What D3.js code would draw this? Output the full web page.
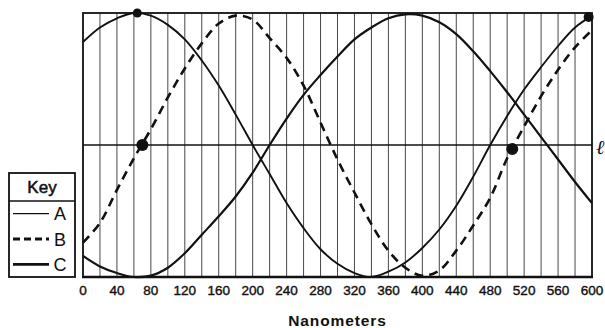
<!DOCTYPE html>
<html>
<head>
<meta charset="utf-8">
<script src="https://cdn.jsdelivr.net/npm/d3@7"></script>
<style>
body { margin: 0; background: #fff; }
svg { display: block; }
</style>
</head>
<body>
<div id="chart"></div>
<script>
// wavelength positions (nm) and the three waves
var nanometers = [0, 20, 40, 60, 80, 100, 120, 140, 160, 180, 200, 220, 240, 260, 280, 300,
    320, 340, 360, 380, 400, 420, 440, 460, 480, 500, 520, 540, 560, 580, 600];
var waveA = [0.78, 0.89, 0.96, 1.0, 0.98, 0.91, 0.80, 0.64, 0.45, 0.23, 0.0, -0.22, -0.44, -0.63, -0.79, -0.90,
    -0.97, -1.0, -0.96, -0.89, -0.78, -0.64, -0.46, -0.24, 0.0, 0.22, 0.42, 0.59, 0.75, 0.89, 0.98];
var waveB = [-0.74, -0.59, -0.34, -0.10, 0.12, 0.36, 0.58, 0.77, 0.92, 0.98, 0.95, 0.81, 0.66, 0.45, 0.17, -0.11,
    -0.36, -0.60, -0.80, -0.93, -0.99, -0.95, -0.80, -0.61, -0.40, -0.10, 0.14, 0.37, 0.57, 0.74, 0.87];
var waveC = [-0.84, -0.92, -0.97, -1.0, -0.99, -0.93, -0.82, -0.68, -0.54, -0.39, -0.21, 0.0, 0.20, 0.38, 0.53, 0.67,
    0.80, 0.89, 0.96, 0.99, 0.98, 0.93, 0.84, 0.71, 0.56, 0.40, 0.23, 0.06, -0.11, -0.28, -0.44];
var tickLabels = [0, 40, 80, 120, 160, 200, 240, 280, 320, 360, 400, 440, 480, 520, 560, 600];
var keyNames = ["A", "B", "C"];
// pencil dots drawn on the sheet
var markNm = [64, 70, 506, 596];
var markVal = [1.0, 0.0, -0.03, 0.97];
var markR = [4.5, 6, 6, 5];

var width = 605, height = 328;
var margin = { top: 13, right: 13, bottom: 51, left: 83 };

var svg = d3.select("#chart")
    .append("svg")
    .attr("width", width)
    .attr("height", height);

var x = d3.scaleLinear().domain([0, 600]).range([margin.left, width - margin.right]);
var y = d3.scaleLinear().domain([-1, 1]).range([height - margin.bottom, margin.top]);

// vertical grid every 20 nm
svg.append("g")
    .selectAll("line")
    .data(nanometers.slice(1, -1))
    .enter()
    .append("line")
    .attr("x1", d => x(d))
    .attr("x2", d => x(d))
    .attr("y1", y(1))
    .attr("y2", y(-1))
    .style("stroke", "#333")
    .style("stroke-width", 0.9);

// middle line
svg.append("line")
    .attr("x1", x(0))
    .attr("x2", x(600))
    .attr("y1", y(0))
    .attr("y2", y(0))
    .style("stroke", "#111")
    .style("stroke-width", 1.6);

var line = d3.line()
    .x((d, i) => x(nanometers[i]))
    .y(d => y(d))
    .curve(d3.curveCatmullRom.alpha(0.5));

svg.append("path")
    .datum(waveA)
    .attr("d", line)
    .style("fill", "none")
    .style("stroke", "#111")
    .style("stroke-width", 1.9);

svg.append("path")
    .datum(waveB)
    .attr("d", line)
    .style("fill", "none")
    .style("stroke", "#111")
    .style("stroke-width", 2.6)
    .style("stroke-dasharray", "9,6");

svg.append("path")
    .datum(waveC)
    .attr("d", line)
    .style("fill", "none")
    .style("stroke", "#111")
    .style("stroke-width", 2.2);

// frame
svg.append("rect")
    .attr("x", x(0))
    .attr("y", y(1))
    .attr("width", x(600) - x(0))
    .attr("height", y(-1) - y(1))
    .style("fill", "none")
    .style("stroke", "#111")
    .style("stroke-width", 1.8);

svg.append("line")
    .attr("x1", x(0) - 1)
    .attr("x2", x(600) + 1)
    .attr("y1", y(-1))
    .attr("y2", y(-1))
    .style("stroke", "#111")
    .style("stroke-width", 2.4);

// tick labels
svg.append("g")
    .selectAll("text")
    .data(tickLabels)
    .enter()
    .append("text")
    .attr("x", d => x(d))
    .attr("y", 295)
    .attr("text-anchor", "middle")
    .style("font-family", "Liberation Sans, Arial, sans-serif")
    .style("font-size", "13.5px")
    .style("fill", "#111")
    .style("stroke", "#111")
    .style("stroke-width", 0.4)
    .text(d => d);

svg.append("text")
    .attr("x", (x(0) + x(600)) / 2)
    .attr("y", 326)
    .attr("text-anchor", "middle")
    .style("font-family", "Liberation Sans, Arial, sans-serif")
    .style("font-size", "15.5px")
    .style("font-weight", "bold")
    .style("letter-spacing", "0.9px")
    .style("fill", "#111")
    .text("Nanometers");

// pencil dots
svg.append("g")
    .selectAll("circle")
    .data(markNm)
    .enter()
    .append("circle")
    .attr("cx", d => x(d))
    .attr("cy", (d, i) => y(markVal[i]))
    .attr("r", (d, i) => markR[i])
    .style("fill", "#111");

// handwritten mark at the end of the middle line
svg.append("text")
    .attr("x", 596)
    .attr("y", y(0) + 9)
    .style("font-family", "DejaVu Serif, serif")
    .style("font-style", "italic")
    .style("font-size", "20px")
    .style("fill", "#111")
    .text("ℓ");

// key
var key = svg.append("g");
key.append("rect")
    .attr("x", 9)
    .attr("y", 173)
    .attr("width", 66)
    .attr("height", 104)
    .style("fill", "#fff")
    .style("stroke", "#111")
    .style("stroke-width", 1.8);
key.append("line")
    .attr("x1", 9)
    .attr("x2", 75)
    .attr("y1", 201)
    .attr("y2", 201)
    .style("stroke", "#111")
    .style("stroke-width", 1.6);
key.append("text")
    .attr("x", 42)
    .attr("y", 193)
    .attr("text-anchor", "middle")
    .style("font-family", "Liberation Sans, Arial, sans-serif")
    .style("font-size", "17px")
    .style("fill", "#111")
    .style("stroke", "#111")
    .style("stroke-width", 0.5)
    .text("Key");

var keyStyles = [
    { w: 1.3, dash: null },
    { w: 3, dash: "7,4" },
    { w: 2.6, dash: null }
];
var keyRow = d3.scaleBand().domain(keyNames).range([201, 277]);

key.selectAll(".keyline")
    .data(keyNames)
    .enter()
    .append("line")
    .attr("class", "keyline")
    .attr("x1", 13)
    .attr("x2", 49)
    .attr("y1", d => keyRow(d) + keyRow.bandwidth() / 2)
    .attr("y2", d => keyRow(d) + keyRow.bandwidth() / 2)
    .style("stroke", "#111")
    .style("stroke-width", (d, i) => keyStyles[i].w)
    .style("stroke-dasharray", (d, i) => keyStyles[i].dash);

key.selectAll(".keytext")
    .data(keyNames)
    .enter()
    .append("text")
    .attr("class", "keytext")
    .attr("x", 60)
    .attr("y", d => keyRow(d) + keyRow.bandwidth() / 2 + 6.5)
    .attr("text-anchor", "middle")
    .style("font-family", "Liberation Sans, Arial, sans-serif")
    .style("font-size", "18px")
    .style("fill", "#111")
    .text(d => d);
</script>
</body>
</html>
